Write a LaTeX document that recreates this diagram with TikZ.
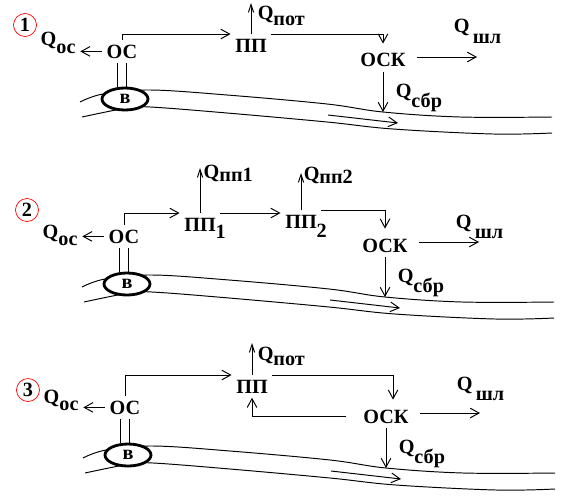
\documentclass[tikz,border=0pt]{standalone}
\usepackage{fontspec}
\setmainfont{Liberation Serif}[BoldFont={Liberation Serif Bold}]
\usetikzlibrary{arrows.meta, shapes.geometric, positioning}

\newcommand{\Qsub}[2][3pt]{Q\raisebox{-#1}{#2}}

\begin{document}
\begin{tikzpicture}[x=0.02cm, y=-0.02cm,
    font={\rmfamily\fontsize{11.5}{13}\selectfont\bfseries}, inner sep=2.5pt,
    flow/.style={-{Straight Barb[length=5pt,width=5.5pt]}, line width=0.55pt},
    uflow/.style={-{Straight Barb[length=4.5pt,width=3pt]}, line width=0.55pt},
    bank/.style={line width=0.55pt},
    intake/.style={ellipse, draw, line width=1.6pt, fill=white,
        minimum width=0.92cm, minimum height=0.44cm, inner sep=0pt},
    num/.style={circle, draw=red, line width=0.4pt, minimum size=0.46cm, inner sep=0pt}]
    \useasboundingbox (0,0) rectangle (563,500);
    % Common part of each scheme: river, intake, ОС, ОСК
    \foreach \n/\dx/\dy/\ny/\qoy/\qsy in {1/0/0/25/46/33, 2/2/185/25/53/43, 3/3/356/34/47/34} {
        \begin{scope}[shift={(\dx,\dy)}]
            \draw[bank] plot[smooth, tension=0.6] coordinates {(80,102) (103,94) (150,90) (227,95) (327,104) (383,112) (460,117) (552,117)};
            \draw[bank] plot[smooth, tension=0.6] coordinates {(82,117) (127,108) (150,107) (227,113) (327,122) (393,129) (493,134) (552,133)};
            \coordinate (fa\n) at (328,115);
            \coordinate (fb\n) at (398,123);
            \draw[flow] (fa\n) -- (fb\n);
            \node[num] (n\n) at (25,\ny) {\n};
            \node[anchor=base] (os\n) at (122,58) {ОС};
            \node[intake] (v\n) at (125,99) {в};
            \node[anchor=base west] (qos\n) at (36,\qoy) {\Qsub[4.5pt]{ос}};
            \node[anchor=base] (osk\n) at (383,67) {ОСК};
            \node[anchor=base west] (qsh\n) at (449,\qsy) {\Qsub[6pt]{\,шл}};
            \node[anchor=base west] (qsb\n) at (391,97) {\Qsub[6pt]{сбр}};
            \coordinate (sh\n) at (477,57);
            \coordinate (sb\n) at (383,112);
            \draw[flow] (os\n.west) -- (os\n.west -| qos\n.east);
            \draw ([xshift=-2.5pt]os\n.south) -- ([xshift=-2.5pt]os\n.south |- v\n.north);
            \draw ([xshift=2.5pt]os\n.south) -- ([xshift=2.5pt]os\n.south |- v\n.north);
            \draw[flow, shorten <=4pt] (osk\n.east |- sh\n) -- (sh\n);
            \draw[flow] (osk\n.south) -- (sb\n);
        \end{scope}
    }
    % Scheme 1
    \node[anchor=base] (pp1) at (251,52) {ПП};
    \coordinate (pot1) at (251,3);
    \node[anchor=base west] (qpot1) at (253,20) {\Qsub{пот}};
    \draw[flow] (os1.north) |- (pp1.north west);
    \draw[uflow] (pp1.north) -- (pot1);
    \draw[flow, shorten >=3pt] (pp1.north east) -| (osk1.north);
    % Scheme 2
    \node[anchor=base] (pp21) at (200,231) {ПП\rlap{\raisebox{-4pt}{1}}};
    \node[anchor=base] (pp22) at (301,228) {ПП\rlap{\raisebox{-5.5pt}{2}}};
    \coordinate (q21) at (200,168);
    \coordinate (q22) at (301,173);
    \node[anchor=base west] (qpp21) at (199,178) {\Qsub[2pt]{пп1}};
    \node[anchor=base west] (qpp22) at (299,180) {\Qsub[2pt]{пп2}};
    \draw[flow] (os2.north) |- (pp21.north west);
    \draw[uflow] (pp21.north) -- (q21);
    \draw[flow] (pp21.north east) -- (pp21.north east -| pp22.west);
    \draw[uflow] (pp22.north) -- (q22);
    \draw[flow, shorten >=3pt] (pp22.north east) -| (osk2.north);
    % Scheme 3
    \node[anchor=base] (pp3) at (252,393) {ПП};
    \coordinate (pot3) at (252,343);
    \node[anchor=base west] (qpot3) at (253,360) {\Qsub{пот}};
    \draw[flow] (os3.north) |- (pp3.north west);
    \draw[uflow] (pp3.north) -- (pot3);
    \draw[flow, shorten >=3pt] (pp3.north east) -| ([xshift=4pt]osk3.north);
    \draw[flow, shorten <=7pt] (osk3.west) -| (pp3.south);
\end{tikzpicture}
\end{document}
